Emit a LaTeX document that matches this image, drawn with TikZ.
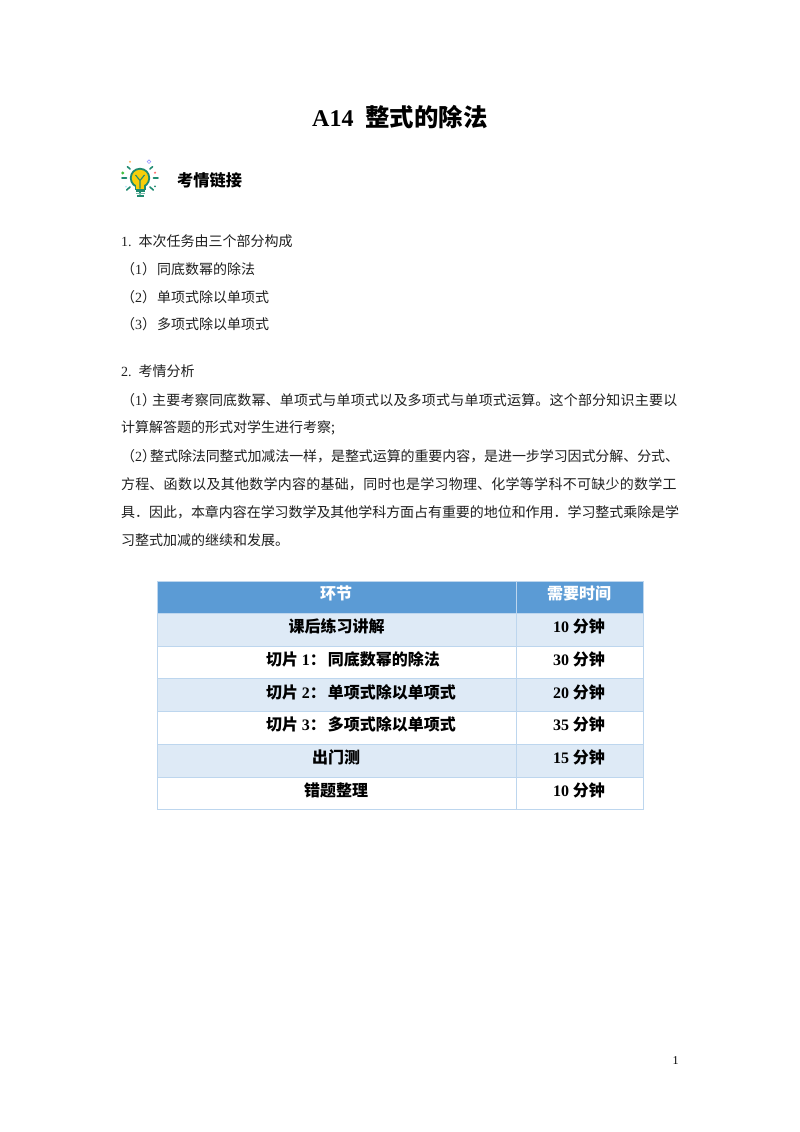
\documentclass[tikz,border=0pt]{standalone}
\usepackage{fontspec}
\setmainfont{Noto Sans CJK SC}
\newfontfamily\lat{Liberation Serif}
\XeTeXlinebreaklocale "zh"
\XeTeXlinebreakskip=0pt plus 3pt minus 1pt
\definecolor{hdr}{HTML}{5B9BD5}
\definecolor{band}{HTML}{DEEAF6}
\definecolor{rule}{HTML}{BDD6EE}
\definecolor{bulbg}{HTML}{1F8A70}
\definecolor{bulby}{HTML}{F7CE0A}
\newcommand{\n}[1]{{\lat #1}}
\tikzset{
  x=1pt,y=-1pt,
  bodyline/.style={anchor=west,inner sep=0pt,font=\fontsize{14}{16}\selectfont,text=black!88},
  fullline/.style={bodyline,text width=558pt,execute at begin node={\parfillskip=0pt\relax}},
  cell/.style={inner sep=0pt,font=\bfseries\fontsize{16}{18}\selectfont,text=black},
  headcell/.style={cell,text=white},
  ray/.style={draw=bulbg,line width=1.6pt,line cap=round},
}
\begin{document}
\begin{tikzpicture}
\useasboundingbox (0,0) rectangle (800,1132);
\fill[white] (0,0) rectangle (800,1132);
% title
\node[anchor=west,inner sep=0pt,font=\bfseries\fontsize{24.4}{26}\selectfont] (title) at (312,117) {{\lat\fontsize{24}{26}\selectfont A14}\hspace{12pt}整式的除法};
% bulb icon
\foreach \a/\r/\s in {90/12.5/16,42/13.5/18,138/13.5/18,0/13.5/18,180/13.5/18,-42/13.5/17,222/13.5/17}
  \draw[ray] (140,178) ++(\a:\r) -- ++(\a:{\s-\r});
\fill[bulbg] (140,178) circle (10.2);
\fill[bulbg] (134.5,184) rectangle (145.5,190);
\fill[bulby] (140,178) circle (8.2);
\fill[bulby] (136.3,182) rectangle (143.7,188.5);
\draw[bulbg,line width=1.1pt] (135.5,175) -- (140,180.5) -- (144.5,175) (140,180.5) -- (140,188.5);
\fill[bulbg] (135.5,190.2) rectangle (144.5,191.8);
\fill[bulbg!60] (135.5,192.8) rectangle (144.5,194);
\fill[bulbg] (136.5,195.3) rectangle (143.5,197);
\fill[green!50!gray] (122.7,173) circle (1.6);
\fill[red!55!white] (155,172.7) circle (1.2);
\fill[orange!60!white] (130,161.7) circle (1.1);
\draw[blue!40!white,line width=.7pt] (149,161.7) circle (1.8);
\fill[bulbg] (155,186.3) circle (1);
\fill[cyan!30] (126,186.7) circle (1);
\node[anchor=west,inner sep=0pt,font=\bfseries\fontsize{16.2}{18}\selectfont] (sec) at (177,180) {考情链接};
% body
\node[bodyline] (l1) at (121,241) {\n{1.}\hspace{7pt}本次任务由三个部分构成};
\node[bodyline] (l2) at (121,269) {（\n{1}）\hspace{1pt}同底数幂的除法};
\node[bodyline] (l3) at (121,297) {（\n{2}）\hspace{1pt}单项式除以单项式};
\node[bodyline] (l4) at (121,324) {（\n{3}）\hspace{1pt}多项式除以单项式};
\node[bodyline] (l5) at (121,371) {\n{2.}\hspace{7pt}考情分析};
\node[fullline] (p1) at (121,400) {（\n{1}）\hspace{-4pt}主要考察同底数幂、单项式与单项式以及多项式与单项式运算。这个部分知识主要以};
\node[bodyline] (p2) at (121,428) {计算解答题的形式对学生进行考察;};
\node[fullline] (p3) at (121,456) {（\n{2}）\hspace{-6pt}整式除法同整式加减法一样，是整式运算的重要内容，是进一步学习因式分解、分式、};
\node[fullline] (p4) at (121,484) {方程、函数以及其他数学内容的基础，同时也是学习物理、化学等学科不可缺少的数学工};
\node[fullline] (p5) at (121,512) {具．因此，本章内容在学习数学及其他学科方面占有重要的地位和作用．学习整式乘除是学};
\node[bodyline] (p6) at (121,540) {习整式加减的继续和发展。};
% table
\fill[hdr] (157,581) rectangle (643,613);
\fill[band] (157,613) rectangle (643,646);
\fill[band] (157,678) rectangle (643,711);
\fill[band] (157,744) rectangle (643,777);
\draw[rule,line width=.9pt] (157,581) rectangle (643,809);
\foreach \y in {613,646,678,711,744,777} \draw[rule,line width=.9pt] (157,\y) -- (643,\y);
\draw[rule,line width=.9pt] (516,581) -- (516,809);
\node[headcell] (h1) at (336,593) {环节};
\node[headcell] (h2) at (579,593) {需要时间};
\node[cell] (a1) at (336.5,626) {课后练习讲解};
\node[cell] (b1) at (579,626) {\n{\bfseries 10} 分钟};
\node[cell] (a2) at (353,659) {切片 \n{\bfseries 1}：\hspace{2pt}同底数幂的除法};
\node[cell] (b2) at (579,659) {\n{\bfseries 30} 分钟};
\node[cell] (a3) at (361,692) {切片 \n{\bfseries 2}：\hspace{2pt}单项式除以单项式};
\node[cell] (b3) at (579,692) {\n{\bfseries 20} 分钟};
\node[cell] (a4) at (361,724) {切片 \n{\bfseries 3}：\hspace{2pt}多项式除以单项式};
\node[cell] (b4) at (579,724) {\n{\bfseries 35} 分钟};
\node[cell] (a5) at (336,757) {出门测};
\node[cell] (b5) at (579,757) {\n{\bfseries 15} 分钟};
\node[cell] (a6) at (336,790) {错题整理};
\node[cell] (b6) at (579,790) {\n{\bfseries 10} 分钟};
\node[inner sep=0pt,font=\lat\fontsize{12}{14}\selectfont] (pg) at (675.5,1061) {1};
\end{tikzpicture}
\end{document}
